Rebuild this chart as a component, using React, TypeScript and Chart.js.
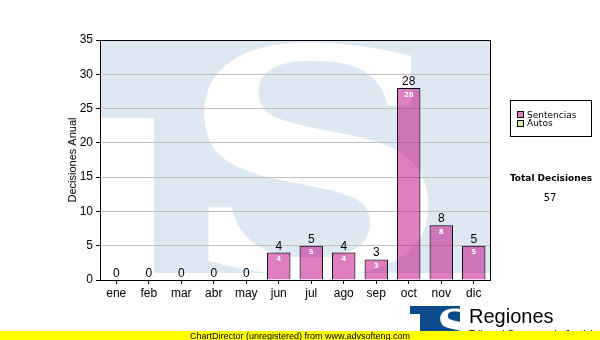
import React, { useEffect, useRef } from "react";
import { Chart, registerables } from "chart.js";

Chart.register(...registerables);

const months = ["ene", "feb", "mar", "abr", "may", "jun", "jul", "ago", "sep", "oct", "nov", "dic"];
const sentencias = [0, 0, 0, 0, 0, 4, 5, 4, 3, 28, 8, 5];
const autos = [0, 0, 0, 0, 0, 0, 0, 0, 0, 0, 0, 0];
const yTicks = [0, 5, 10, 15, 20, 25, 30, 35];
const seriesNames = ["Sentencias", "Autos"];

const PINK = "rgba(192,0,128,0.5)";
const PINK_SOLID = "#e080c0";
const GREEN = "#d4eea2";
const WM = "#dee8f2";

const watermark = {
  id: "watermark",
  beforeDraw(chart: any) {
    const { ctx, chartArea: ca } = chart;
    const w = ca.right - ca.left;
    const h = ca.bottom - ca.top;
    ctx.save();
    ctx.beginPath();
    ctx.rect(ca.left, ca.top, w, h);
    ctx.clip();
    ctx.fillStyle = WM;
    ctx.fillRect(ca.left, ca.top, w, h);
    ctx.fillStyle = "#ffffff";
    ctx.fillRect(ca.left, ca.top + h * 0.325, w * 0.138, h);
    ctx.fillRect(ca.left, ca.top + h * 0.971, w, h);
    ctx.font = 'bold 300px "DejaVu Serif"';
    const m = ctx.measureText("S");
    const gw = m.actualBoundingBoxLeft + m.actualBoundingBoxRight;
    const gh = m.actualBoundingBoxAscent + m.actualBoundingBoxDescent;
    const x0 = ca.left + w * 0.264;
    const x1 = ca.left + w * 0.851;
    const y0 = ca.top;
    const y1 = ca.top + h * 0.985;
    ctx.translate(x0, y0);
    ctx.scale((x1 - x0) / gw, (y1 - y0) / gh);
    ctx.textAlign = "left";
    ctx.textBaseline = "alphabetic";
    ctx.fillText("S", m.actualBoundingBoxLeft, m.actualBoundingBoxAscent);
    ctx.restore();
  },
};

const valueLabels = {
  id: "valueLabels",
  afterDatasetsDraw(chart: any) {
    const { ctx } = chart;
    const metaS = chart.getDatasetMeta(0);
    const metaA = chart.getDatasetMeta(1);
    ctx.save();
    const ca = chart.chartArea;
    ctx.strokeStyle = "#000";
    ctx.lineWidth = 1;
    ctx.beginPath();
    ctx.moveTo(Math.round(ca.left) - 0.5, Math.round(ca.top) + 0.5);
    ctx.lineTo(Math.round(ca.right) + 0.5, Math.round(ca.top) + 0.5);
    ctx.lineTo(Math.round(ca.right) + 0.5, Math.round(ca.bottom) + 0.5);
    ctx.stroke();

    months.forEach((_, i) => {
      const total = sentencias[i] + autos[i];
      const barS = metaS.data[i];
      const barA = metaA.data[i];
      const topY = Math.min(barS.y, barA.y);
      ctx.fillStyle = "#000";
      ctx.font = '12px "Liberation Sans"';
      ctx.textAlign = "center";
      ctx.textBaseline = "alphabetic";
      ctx.fillText(String(total), barS.x, topY - 3);
      if (sentencias[i] > 0) {
        ctx.fillStyle = "#ffffff";
        ctx.font = 'bold 7px "DejaVu Sans"';
        ctx.fillText(String(sentencias[i]), barS.x, barS.y + 8.5);
      }
    });
    ctx.restore();
  },
};

const sideDecor = {
  id: "sideDecor",
  afterDraw(chart: any) {
    const { ctx } = chart;
    const W = chart.width;
    const H = chart.height;
    ctx.save();
    ctx.strokeStyle = "#000";
    ctx.lineWidth = 1;
    ctx.fillStyle = "#fff";
    ctx.fillRect(510.5, 100.5, 81, 36);
    ctx.strokeRect(510.5, 100.5, 81, 36);
    const colors = [PINK_SOLID, GREEN];
    seriesNames.forEach((name, k) => {
      const y = 111 + k * 8.5;
      ctx.fillStyle = colors[k];
      ctx.fillRect(517.5, Math.round(y) + 0.5, 6, 6);
      ctx.strokeRect(517.5, Math.round(y) + 0.5, 6, 6);
      ctx.fillStyle = "#000";
      ctx.font = '9px "DejaVu Sans"';
      ctx.textAlign = "left";
      ctx.textBaseline = "alphabetic";
      ctx.fillText(name, 527, y + 6.8);
    });
    const total = sentencias.reduce((a, b) => a + b, 0) + autos.reduce((a, b) => a + b, 0);
    ctx.textAlign = "center";
    ctx.font = 'bold 9px "DejaVu Sans"';
    ctx.fillText("Total Decisiones", 551, 180.5);
    ctx.font = '10px "DejaVu Sans"';
    ctx.fillText(String(total), 550, 201);

    ctx.fillStyle = "#0c4a8c";
    ctx.fillRect(410, 306, 50, H - 306);
    ctx.fillStyle = "#fff";
    ctx.fillRect(410, 314, 10, H - 314);
    ctx.save();
    ctx.beginPath();
    ctx.rect(410, 306, 50, H - 306);
    ctx.clip();
    ctx.font = 'bold 100px "DejaVu Serif"';
    const m = ctx.measureText("S");
    const gw = m.actualBoundingBoxLeft + m.actualBoundingBoxRight;
    const gh = m.actualBoundingBoxAscent + m.actualBoundingBoxDescent;
    ctx.translate(421, 308);
    ctx.scale(32 / gw, 34 / gh);
    ctx.textAlign = "left";
    ctx.fillText("S", m.actualBoundingBoxLeft, m.actualBoundingBoxAscent);
    ctx.restore();

    ctx.fillStyle = "#000";
    ctx.textAlign = "left";
    ctx.font = '20px "Liberation Sans"';
    ctx.fillText("Regiones", 469, 322.5);
    ctx.font = '10px "Liberation Sans"';
    ctx.fillText("Tribunal Supremo de Justicia", 469, 338);

    ctx.fillStyle = "#ffff00";
    ctx.fillRect(0, 331, W, H - 331);
    ctx.fillStyle = "#000";
    ctx.font = '9px "Liberation Sans"';
    ctx.fillText("ChartDirector (unregistered) from www.advsofteng.com", 190, 338.5);
    ctx.restore();
  },
};

export default function App() {
  const ref = useRef<HTMLCanvasElement>(null);
  useEffect(() => {
    if (!ref.current) return;
    const chart = new Chart(ref.current, {
      type: "bar",
      data: {
        labels: months,
        datasets: [
          {
            label: seriesNames[0],
            data: sentencias,
            backgroundColor: PINK,
            borderColor: "#000",
            borderWidth: 1,
            barPercentage: 0.72,
            categoryPercentage: 1,
          },
          {
            label: seriesNames[1],
            data: autos,
            backgroundColor: GREEN,
            borderColor: "#000",
            borderWidth: 0,
            barPercentage: 0.72,
            categoryPercentage: 1,
          },
        ],
      },
      options: {
        responsive: false,
        animation: false,
        devicePixelRatio: 1,
        layout: { padding: { left: 0, top: 40, right: 110, bottom: 40 } },
        plugins: { legend: { display: false }, tooltip: { enabled: false }, title: { display: false } },
        scales: {
          x: {
            stacked: true,
            grid: { display: true, drawOnChartArea: false, drawTicks: true, tickLength: 4, tickColor: "#000", offset: false },
            border: { display: true, color: "#000", width: 1 },
            ticks: { color: "#000", font: { family: "Liberation Sans", size: 12 }, padding: 2, maxRotation: 0 },
            afterFit: (s: any) => { s.height = 20; },
          },
          y: {
            stacked: true,
            min: 0,
            max: 35,
            afterBuildTicks: (s: any) => { s.ticks = yTicks.map((v) => ({ value: v })); },
            grid: { color: "#c0c0c0", tickColor: "#000", tickLength: 4, drawTicks: true },
            border: { display: true, color: "#000", width: 1 },
            ticks: { color: "#000", font: { family: "Liberation Sans", size: 12 }, padding: 3 },
            title: {
              display: true,
              text: "Decisiones Anual",
              color: "#000",
              font: { family: "Liberation Sans", size: 11 },
              padding: { top: 66, bottom: 0 },
            },
            afterFit: (s: any) => { s.width = 100; },
          },
        },
      },
      plugins: [watermark, valueLabels, sideDecor],
    });
    return () => chart.destroy();
  }, []);
  return (
    <div style={{ position: "absolute", left: 0, top: 0, width: 600, height: 340, background: "#fff" }}>
      <canvas ref={ref} width={600} height={340} style={{ display: "block" }} />
    </div>
  );
}
